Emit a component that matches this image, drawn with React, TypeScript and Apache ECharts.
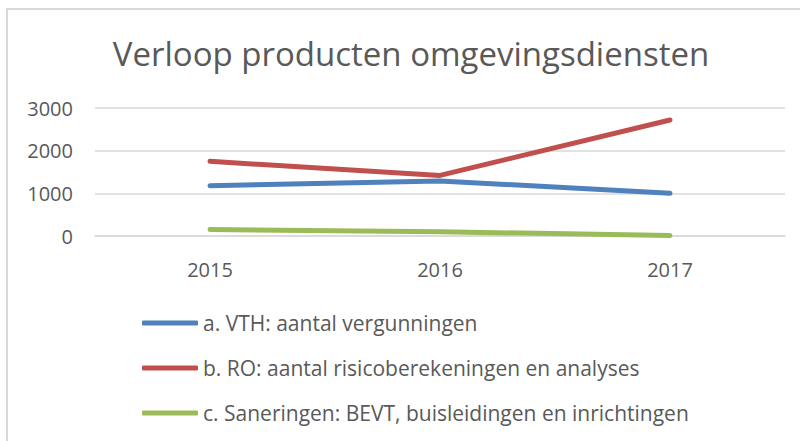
import React, { useEffect, useRef } from "react";
import * as echarts from "echarts";

const categories = ["2015", "2016", "2017"];
const seriesNames = [
  "a. VTH: aantal vergunningen",
  "b. RO: aantal risicoberekeningen en analyses",
  "c. Saneringen: BEVT, buisleidingen en inrichtingen",
];
const vthValues = [1180, 1290, 1000];
const roValues = [1750, 1420, 2720];
const saneringValues = [150, 100, 10];
const yTicks = { min: 0, max: 3000, interval: 1000 };

const colors = ["#4f81bd", "#c0504d", "#9bbb59"];
const FONT = "Open Sans";

export default function App() {
  const ref = useRef<HTMLDivElement>(null);
  useEffect(() => {
    if (!ref.current) return;
    const chart = echarts.init(ref.current, undefined, { renderer: "svg" });
    const data = [vthValues, roValues, saneringValues];
    chart.setOption({
      animation: false,
      backgroundColor: "#ffffff",
      title: {
        text: "Verloop producten omgevingsdiensten",
        left: 406,
        textAlign: "center",
        top: 32,
        textStyle: { fontFamily: FONT, fontSize: 33, fontWeight: "normal", color: "#595959" },
      },
      graphic: [
        {
          type: "rect",
          shape: { x: 7, y: 9, width: 900, height: 500 },
          style: { fill: "none", stroke: "#d9d9d9", lineWidth: 2 },
          silent: true,
        },
      ],
      grid: { left: 95, right: 15, top: 108, bottom: 205 },
      legend: {
        orient: "vertical",
        left: 137,
        top: 306,
        icon: "roundRect",
        itemWidth: 56,
        itemHeight: 5,
        itemGap: 21,
        textStyle: { fontFamily: FONT, fontSize: 21, color: "#595959", lineHeight: 24 },
        data: seriesNames,
      },
      xAxis: {
        type: "category",
        data: categories,
        boundaryGap: true,
        axisLine: { show: true, lineStyle: { color: "#d9d9d9", width: 1.5 } },
        axisTick: { show: false },
        axisLabel: { fontFamily: FONT, fontSize: 20, color: "#595959", margin: 23 },
      },
      yAxis: {
        type: "value",
        min: yTicks.min,
        max: yTicks.max,
        interval: yTicks.interval,
        axisLine: { show: false },
        axisTick: { show: false },
        splitLine: { lineStyle: { color: "#d9d9d9", width: 1.5 } },
        axisLabel: {
          fontFamily: FONT,
          fontSize: 20,
          color: "#595959",
          margin: 22,
          formatter: (v: number) => String(v),
        },
      },
      series: seriesNames.map((name, i) => ({
        name,
        type: "line",
        data: data[i],
        symbol: "none",
        color: colors[i],
        lineStyle: { width: 5, color: colors[i], cap: "round", join: "round" },
      })),
    });
    return () => chart.dispose();
  }, []);
  return (
    <div
      ref={ref}
      style={{ position: "fixed", left: 0, top: 0, width: 800, height: 441 }}
    />
  );
}
